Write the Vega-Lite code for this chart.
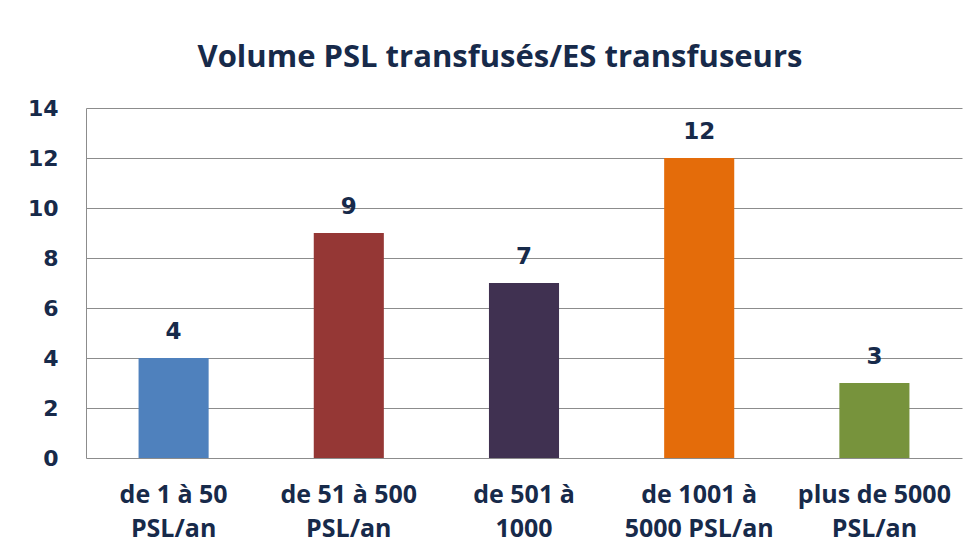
{
  "$schema": "https://vega.github.io/schema/vega-lite/v6.json",
  "width": 876,
  "height": 350,
  "autosize": "none",
  "padding": {"left": 86, "top": 108, "right": 16, "bottom": 97},
  "background": "white",
  "title": {
    "text": "Volume PSL transfusés/ES transfuseurs",
    "font": "Open Sans",
    "fontSize": 31,
    "fontWeight": "bold",
    "color": "#172A4A",
    "anchor": "middle",
    "dx": -24,
    "offset": 23
  },
  "data": {
    "values": [
      {"cat": "de 1 à 50|PSL/an", "value": 4, "color": "#4F81BD"},
      {"cat": "de 51 à 500|PSL/an", "value": 9, "color": "#953735"},
      {"cat": "de 501 à|1000", "value": 7, "color": "#403151"},
      {"cat": "de 1001 à|5000 PSL/an", "value": 12, "color": "#E46C0A"},
      {"cat": "plus de 5000|PSL/an", "value": 3, "color": "#77933C"}
    ]
  },
  "encoding": {
    "x": {
      "field": "cat",
      "type": "nominal",
      "sort": null,
      "title": null,
      "scale": {"paddingInner": 0.6, "paddingOuter": 0.3},
      "axis": {
        "labelAngle": 0,
        "labelExpr": "split(datum.label, '|')",
        "labelFont": "Open Sans",
        "labelFontSize": 25,
        "labelFontWeight": "bold",
        "labelColor": "#172A4A",
        "labelLineHeight": 34,
        "labelPadding": 24,
        "ticks": false,
        "domain": false,
        "grid": false
      }
    },
    "y": {
      "field": "value",
      "type": "quantitative",
      "title": null,
      "scale": {"domain": [0, 14]},
      "axis": {
        "values": [0, 2, 4, 6, 8, 10, 12, 14],
        "labelFont": "DejaVu Sans",
        "labelFontSize": 22,
        "labelFontWeight": "bold",
        "labelColor": "#172A4A",
        "labelPadding": 28,
        "ticks": false,
        "domain": true,
        "domainColor": "#8C8C8C",
        "grid": true,
        "gridColor": "#8C8C8C",
        "gridOpacity": 1,
        "gridWidth": 1.2
      }
    }
  },
  "layer": [
    {
      "mark": {"type": "bar"},
      "encoding": {
        "color": {"field": "color", "type": "nominal", "scale": null, "legend": null}
      }
    },
    {
      "mark": {
        "type": "text",
        "baseline": "alphabetic",
        "dy": -19,
        "font": "DejaVu Sans",
        "fontSize": 23,
        "fontWeight": "bold",
        "color": "#172A4A"
      },
      "encoding": {
        "text": {"field": "value", "type": "quantitative"}
      }
    }
  ],
  "config": {
    "view": {"stroke": null}
  }
}
